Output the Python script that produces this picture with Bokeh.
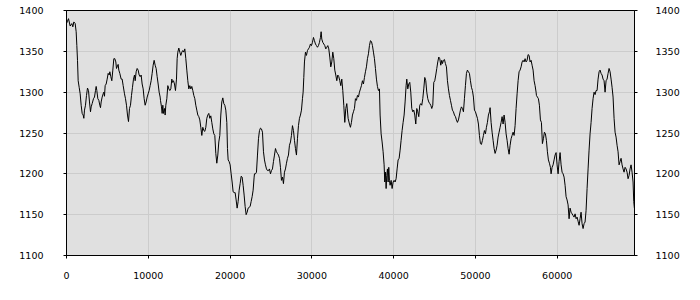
from bokeh.plotting import figure
from bokeh.models import Range1d, LinearAxis, SingleIntervalTicker, BasicTickFormatter
from bokeh.embed import file_html
from bokeh.resources import INLINE

x_values = [
    0, 81, 245, 448, 652, 774, 897, 1060, 1182, 1263, 1345, 1426, 1549, 1671, 1793, 1915, 2038, 2119, 2200,
    2323, 2445, 2567, 2690, 2812, 2934, 3016, 3138, 3301, 3423, 3545, 3627, 3708, 3831, 3953, 4075, 4157,
    4238, 4360, 4483, 4564, 4646, 4727, 4849, 4972, 5094, 5216, 5298, 5420, 5542, 5664, 5787, 5909, 6031,
    6113, 6194, 6316, 6398, 6520, 6683, 6805, 6928, 7091, 7213, 7335, 7457, 7580, 7702, 7824, 7946, 8069,
    8191, 8313, 8395, 8517, 8639, 8761, 8884, 9006, 9128, 9250, 9373, 9495, 9617, 9739, 9862, 9984, 10106,
    10228, 10351, 10473, 10595, 10717, 10840, 10962, 11084, 11206, 11329, 11451,
    11492, 11614, 11695, 11777, 11858, 11981, 12062, 12144, 12266, 12388, 12510, 12633, 12755, 12877, 12959,
    13081, 13203, 13325, 13448, 13529, 13611, 13733, 13855, 13977, 14100, 14222, 14344, 14466, 14589, 14711,
    14833, 14955, 15078, 15200, 15322, 15444, 15567, 15689, 15811, 15933, 16056, 16178, 16300, 16422, 16545,
    16667, 16789, 16911, 17034, 17156, 17278, 17400, 17523, 17645, 17767, 17889, 18012, 18134, 18256, 18378,
    18501, 18623, 18745, 18867, 18990, 19112, 19234, 19356, 19479, 19601, 19682, 19764, 19886, 20008, 20131,
    20253, 20375, 20497, 20620, 20742, 20864, 20986, 21109, 21231, 21353, 21475, 21598, 21720, 21842, 21964,
    22087, 22209, 22331, 22453, 22576, 22698, 22820, 22942,
    22984, 23106, 23228, 23350, 23473, 23595, 23717, 23839, 23962, 24084, 24206, 24328, 24451, 24573, 24695,
    24817, 24940, 25062, 25184, 25306, 25429, 25551, 25673, 25795, 25918, 26040, 26162, 26284, 26407, 26529,
    26651, 26773, 26896, 27018, 27140, 27262, 27385, 27507, 27629, 27751, 27874, 27996, 28118, 28240, 28363,
    28485, 28607, 28729, 28852, 28933, 29015, 29096, 29218, 29341, 29463, 29585, 29707, 29830, 29952, 30074,
    30196, 30319, 30441, 30563, 30685, 30808, 30930, 31052, 31134, 31215, 31337, 31460, 31582, 31704, 31826,
    31949, 32071, 32193, 32315, 32438, 32560, 32682, 32804, 32927, 33049, 33171, 33293, 33416, 33538, 33660,
    33782, 33905, 34027, 34149, 34271, 34434,
    34597, 34719, 34841, 34964, 35086, 35208, 35330, 35453, 35575, 35697, 35819, 35942, 36064, 36186, 36308,
    36431, 36553, 36675, 36797, 36920, 37042, 37164, 37286, 37409, 37531, 37653, 37775, 37898, 38020, 38142,
    38264, 38346, 38468, 38590, 38713, 38835, 38916, 38998, 39079, 39161, 39242, 39324, 39405, 39487, 39568,
    39691, 39813, 39935, 40057, 40180, 40302, 40424, 40546, 40669, 40791, 40913, 41035, 41158, 41280, 41402,
    41524, 41606, 41728, 41850, 41973, 42095, 42217, 42339, 42462, 42584, 42706, 42828, 42951, 43073, 43195,
    43317, 43440, 43562, 43684, 43806, 43929, 44051, 44173, 44295, 44418, 44540, 44662, 44784, 44907, 45029,
    45151, 45273, 45396, 45518, 45640, 45762, 45885,
    45967, 46089, 46211, 46333, 46456, 46578, 46700, 46822, 46945, 47067, 47189, 47311, 47434, 47556, 47678,
    47800, 47923, 48045, 48167, 48289, 48412, 48534, 48656, 48778, 48901, 49023, 49145, 49267, 49390, 49512,
    49634, 49756, 49879, 50001, 50123, 50245, 50368, 50490, 50612, 50734, 50857, 50979, 51101, 51223, 51346,
    51468, 51590, 51712, 51794, 51916, 52038, 52161, 52283, 52405, 52527, 52650, 52772, 52894, 53016, 53139,
    53261, 53383, 53505, 53628, 53750, 53872, 53994, 54117, 54239, 54361, 54483, 54606, 54728, 54850, 54972,
    55095, 55217, 55339, 55461, 55584, 55706, 55828, 55950, 56073, 56195, 56317, 56439, 56562, 56684, 56806,
    56928, 57051, 57173, 57295, 57417,
    57458, 57580, 57702, 57824, 57947, 58069, 58191, 58313, 58436, 58558, 58680, 58802, 58925, 59047, 59169,
    59251, 59373, 59495, 59617, 59740, 59862, 59984, 60106, 60229, 60351, 60473, 60595, 60718, 60840, 60962,
    61084, 61207, 61329, 61451, 61573, 61696, 61818, 61940, 62062, 62185, 62307, 62429, 62551, 62674, 62796,
    62918, 63040, 63163, 63285, 63407, 63529, 63652, 63774, 63896, 64018, 64141, 64263, 64385, 64507, 64630,
    64752, 64874, 64996, 65119, 65241, 65363, 65485, 65608, 65730, 65852, 65974, 66097, 66219, 66341, 66463,
    66586, 66708, 66830, 66952, 67075, 67197, 67319, 67441, 67564, 67686, 67808, 67930, 68053, 68175, 68297,
    68419, 68542, 68664, 68786, 68908, 69031, 69153, 69275, 69357, 69438,
]

y_values = [
    1384, 1386, 1390, 1381, 1384, 1380, 1386, 1384, 1374, 1357, 1339, 1314, 1306, 1298, 1284, 1274, 1272, 1268, 1278,
    1284, 1296, 1305, 1302, 1288, 1276, 1282, 1286, 1292, 1294, 1302, 1307, 1302, 1292, 1290, 1284, 1281,
    1288, 1294, 1298, 1300, 1295, 1308, 1310, 1316, 1323, 1321, 1325, 1319, 1314, 1327, 1341, 1341, 1337,
    1329, 1331, 1334, 1327, 1323, 1316, 1316, 1308, 1298, 1292, 1284, 1272, 1264, 1280, 1284, 1296, 1306,
    1316, 1321, 1314, 1325, 1329, 1327, 1321, 1319, 1321, 1310, 1304, 1292, 1284, 1288, 1294, 1298, 1302,
    1308, 1314, 1323, 1333, 1339, 1333, 1329, 1319, 1310, 1300, 1294,
    1290, 1282, 1274, 1284, 1274, 1280, 1272, 1284, 1292, 1308, 1304, 1302, 1304, 1316, 1312,
    1314, 1310, 1302, 1316, 1341, 1349, 1354, 1349, 1345, 1349, 1351, 1349, 1353, 1341, 1327,
    1314, 1304, 1308, 1304, 1307, 1302, 1296, 1292, 1284, 1278, 1272, 1270, 1266, 1257, 1247,
    1257, 1253, 1252, 1257, 1268, 1272, 1274, 1268, 1271, 1263, 1255, 1249, 1247, 1225, 1213,
    1223, 1239, 1247, 1272, 1288, 1293, 1286, 1284, 1278, 1263, 1231, 1217, 1215, 1211, 1200,
    1190, 1178, 1177, 1177, 1168, 1158, 1166, 1180, 1188, 1197, 1196, 1186, 1174, 1160, 1150,
    1153, 1158, 1159, 1160, 1166, 1172, 1180, 1196,
    1200, 1200, 1202, 1223, 1243, 1253, 1256, 1255, 1251, 1227, 1217, 1211, 1206, 1204, 1204,
    1206, 1200, 1204, 1206, 1215, 1223, 1231, 1227, 1225, 1223, 1219, 1208, 1192, 1196, 1188,
    1202, 1206, 1213, 1219, 1223, 1235, 1239, 1247, 1259, 1253, 1241, 1231, 1223, 1243, 1259,
    1268, 1272, 1278, 1292, 1300, 1318, 1337, 1349, 1345, 1351, 1353, 1355, 1359, 1357, 1361,
    1367, 1363, 1359, 1357, 1355, 1357, 1361, 1367, 1374, 1365, 1361, 1359, 1357, 1353, 1355,
    1357, 1353, 1343, 1331, 1337, 1349, 1341, 1327, 1321, 1314, 1321, 1319, 1314, 1308, 1316,
    1302, 1284, 1263, 1280, 1286, 1268,
    1261, 1257, 1263, 1272, 1276, 1280, 1292, 1290, 1296, 1294, 1300, 1304, 1308, 1314, 1310,
    1318, 1325, 1331, 1341, 1347, 1357, 1363, 1362, 1357, 1349, 1341, 1329, 1316, 1307, 1302,
    1304, 1272, 1249, 1239, 1227, 1211, 1190, 1202, 1182, 1198, 1206, 1190, 1208, 1192, 1186,
    1192, 1182, 1190, 1192, 1190, 1194, 1206, 1217, 1219, 1229, 1241, 1253, 1263, 1272, 1288,
    1308, 1316, 1304, 1310, 1312, 1300, 1280, 1276, 1278, 1272, 1261, 1280, 1276, 1270, 1284,
    1286, 1284, 1292, 1304, 1318, 1314, 1300, 1292, 1288, 1286, 1284, 1280, 1284, 1312, 1314,
    1321, 1329, 1337, 1343, 1341, 1333, 1339,
    1335, 1339, 1340, 1335, 1331, 1314, 1304, 1296, 1290, 1284, 1278, 1276, 1272, 1270, 1266,
    1263, 1266, 1272, 1278, 1282, 1280, 1276, 1292, 1308, 1323, 1327, 1325, 1323, 1314, 1306,
    1302, 1294, 1278, 1276, 1272, 1268, 1261, 1247, 1237, 1236, 1241, 1247, 1253, 1249, 1257,
    1263, 1272, 1276, 1281, 1263, 1251, 1241, 1231, 1225, 1229, 1235, 1245, 1251, 1257, 1263,
    1270, 1261, 1272, 1263, 1249, 1241, 1231, 1224, 1235, 1243, 1247, 1251, 1247, 1259, 1280,
    1298, 1314, 1325, 1327, 1331, 1337, 1339, 1337, 1341, 1337, 1339, 1346, 1345, 1337, 1339,
    1333, 1327, 1314, 1308, 1300,
    1296, 1294, 1292, 1284, 1266, 1263, 1237, 1243, 1251, 1249, 1241, 1227, 1217, 1213, 1208,
    1200, 1208, 1211, 1217, 1223, 1226, 1211, 1200, 1215, 1226, 1211, 1202, 1200, 1196, 1186,
    1172, 1168, 1162, 1145, 1158, 1153, 1151, 1149, 1147, 1151, 1145, 1147, 1142, 1137, 1145,
    1153, 1139, 1133, 1139, 1141, 1155, 1182, 1206, 1229, 1249, 1263, 1280, 1292, 1300, 1297,
    1302, 1302, 1316, 1325, 1327, 1323, 1321, 1316, 1314, 1300, 1314, 1316, 1323, 1329, 1325,
    1316, 1306, 1294, 1268, 1251, 1245, 1235, 1227, 1211, 1215, 1219, 1211, 1206, 1202, 1208,
    1206, 1202, 1194, 1198, 1206, 1211, 1202, 1190, 1166, 1158,
]

x_ticks_interval = 10000
y_ticks_interval = 50

FONT = "DejaVu Sans"
FSIZE = "9.5px"

p = figure(width=700, height=300, output_backend="svg", toolbar_location=None,
           x_range=Range1d(0, 69450), y_range=Range1d(1100, 1400),
           min_border_left=66, min_border_right=66, min_border_top=10, min_border_bottom=45,
           background_fill_color="white", border_fill_color="white")
p.background_fill_color = "#e0e0e0"
p.outline_line_color = "black"
p.outline_line_width = 1

p.line(x_values, y_values, line_color="black", line_width=1)

xt = SingleIntervalTicker(interval=x_ticks_interval, num_minor_ticks=0)
yt = SingleIntervalTicker(interval=y_ticks_interval, num_minor_ticks=0)

p.xaxis.ticker = xt
p.yaxis.ticker = yt
p.xgrid.ticker = xt
p.ygrid.ticker = yt
p.xaxis.formatter = BasicTickFormatter(use_scientific=False)
p.yaxis.formatter = BasicTickFormatter(use_scientific=False)

right = LinearAxis(ticker=yt, formatter=BasicTickFormatter(use_scientific=False))
p.add_layout(right, "right")

for ax in [p.xaxis[0], p.yaxis[0], right]:
    ax.axis_line_color = "black"
    ax.major_tick_line_color = "black"
    ax.major_tick_in = 0
    ax.major_tick_out = 3
    ax.minor_tick_line_color = None
    ax.major_label_text_font = FONT
    ax.major_label_text_font_size = FSIZE
    ax.major_label_text_color = "black"

p.xaxis[0].major_label_standoff = 13
p.yaxis[0].major_label_standoff = 20
right.major_label_standoff = 18

p.grid.grid_line_color = "#cccccc"
p.grid.grid_line_width = 1

open("out.html", "w").write(file_html(p, INLINE))
